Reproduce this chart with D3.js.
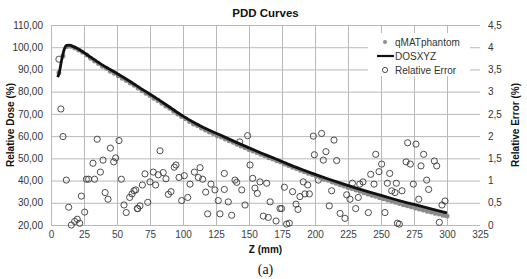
<!DOCTYPE html>
<html>
<head>
<meta charset="utf-8">
<script src="https://cdn.jsdelivr.net/npm/d3@7"></script>
<style>
  body { margin: 0; background: #fff; }
  svg { font-family: "Liberation Sans", Arial, sans-serif; }
</style>
</head>
<body>
<svg id="chart" width="527" height="279"></svg>
<script>
// PDD curves: measured (qMATphantom), simulated (DOSXYZ) and their relative error

var xTicks = [0, 25, 50, 75, 100, 125, 150, 175, 200, 225, 250, 275, 300, 325];
var doseTicks = [20, 30, 40, 50, 60, 70, 80, 90, 100, 110];
var errTicks = [0, 0.5, 1, 1.5, 2, 2.5, 3, 3.5, 4, 4.5];

// DOSXYZ curve (depth mm, dose %)
var dosZ = [5, 6, 8, 10, 12, 14, 16, 20, 25, 30, 35, 40, 50, 60, 70, 80, 90, 100, 110, 120, 130, 140,
            150, 160, 170, 180, 190, 200, 210, 220, 230, 240, 250, 260, 270, 280, 290, 300];
var dosVal = [86.5, 88, 94, 99, 100.8, 100.9, 100.5, 99.4, 97.6, 95.5, 93.5, 91.6, 88.2, 84.6, 80.7, 77.0,
              73.0, 69.0, 65.6, 62.6, 60.0, 57.3, 54.7, 52.2, 49.8, 47.3, 45.0, 42.8, 40.7, 38.7, 36.8,
              35.0, 33.3, 31.6, 30.0, 28.5, 26.9, 25.4];

// qMATphantom points (depth mm, dose %)
var qmatZ = [6, 9, 12, 15, 18, 21, 24, 27, 30, 33, 36, 39, 42, 45, 48, 51, 54, 57, 60, 63, 66, 69, 72, 75,
             78, 81, 84, 87, 90, 93, 96, 99, 102, 105, 108, 111, 114, 117, 120, 123, 126, 129, 132, 135,
             138, 141, 144, 147, 150, 153, 156, 159, 162, 165, 168, 171, 174, 177, 180, 183, 186, 189, 192,
             195, 198, 201, 204, 207, 210, 213, 216, 219, 222, 225, 228, 231, 234, 237, 240, 243, 246, 249,
             252, 255, 258, 261, 264, 267, 270, 273, 276, 279, 282, 285, 288, 291, 294, 297, 300];
var qmatVal = [88.5, 96.0, 100.3, 100.4, 99.6, 98.8, 97.7, 96.5, 95.0, 93.8, 92.7, 91.4, 90.5, 89.2, 88.3,
               87.2, 86.0, 85.0, 83.9, 82.9, 81.7, 80.4, 79.3, 78.3, 77.0, 76.0, 74.8, 73.6, 72.5, 71.2,
               70.0, 68.8, 67.8, 66.6, 65.5, 64.8, 63.6, 62.8, 61.9, 61.2, 60.2, 59.6, 58.7, 57.9, 57.2,
               56.3, 55.6, 54.8, 54.0, 53.3, 52.6, 51.8, 51.2, 50.3, 49.7, 48.9, 48.3, 47.4, 46.8, 46.0,
               45.4, 44.6, 44.0, 43.3, 42.7, 41.9, 41.4, 40.6, 40.1, 39.4, 38.8, 38.1, 37.6, 36.9, 36.4,
               35.7, 35.2, 34.5, 34.0, 33.4, 32.9, 32.3, 31.8, 31.2, 30.8, 30.2, 29.7, 29.1, 28.7, 28.2,
               27.6, 27.2, 26.7, 26.2, 25.8, 25.3, 24.9, 24.4, 24.1];

// Relative error (depth mm, error %)
var errZ = [6, 7.5, 9.1, 11.6, 13.4, 15.4, 17.9, 19.9, 21.7, 23, 25.5, 26.8, 28.5, 31.8, 33, 35, 37.4, 39.4,
            41, 43.2, 45, 47.5, 49, 51.5, 53.3, 55.3, 57, 59.6, 61.4, 62.9, 64.2, 65.4, 65.7, 67.4, 69.2,
            71.2, 73.3, 75, 77.5, 79.3, 81.3, 82.6, 85, 87.1, 88.9, 90.9, 93.4, 94.7, 97, 99, 101, 103.6,
            105.3, 108.6, 111.6, 112.9, 114.9, 117.2, 118.7, 121.2, 124.2, 126.7, 128, 131.3, 131.3, 134.3,
            136.9, 139.4, 140.7, 143, 144.5, 147, 149, 150.8, 152.8, 154.5, 156.3, 158.3, 160.8, 163.4,
            164.6, 166, 170.5, 173.5, 174.7, 176.8, 178.5, 180.5, 183, 185.6, 187.1, 188.6, 191.1, 192.4,
            194.5, 195.7, 198.7, 199.5, 202.5, 205, 206.3, 208.3, 210.8, 212.6, 214.4, 216.4, 219, 222.7,
            224, 226.5, 228.3, 230.8, 232.8, 233.9, 236.4, 240.4, 242.2, 244.7, 246, 248.5, 250.5, 253,
            254.8, 256.6, 258.1, 260.6, 261.6, 262.4, 263.9, 265.9, 269, 270.2, 272.2, 274.5, 276.5, 278.6,
            280.3, 282.3, 284.6, 286.1, 290.4, 292.2, 294.2, 296.2, 298.5];
var errVal = [3.73, 2.61, 1.99, 1.01, 0.40, 0.00, 0.08, 0.13, 0.04, 0.65, 0.29, 1.03, 1.03, 1.39, 1.03, 1.93,
              1.19, 1.46, 0.73, 0.58, 1.73, 1.42, 1.51, 1.90, 1.03, 0.45, 0.28, 0.62, 0.70, 0.77, 0.79, 0.37,
              0.37, 0.43, 0.90, 1.15, 0.51, 0.97, 1.19, 0.90, 1.13, 1.67, 1.18, 1.04, 0.69, 0.75, 1.30, 1.35,
              1.07, 0.55, 1.11, 0.62, 0.92, 1.19, 1.07, 1.29, 1.03, 0.74, 0.25, 0.92, 0.79, 0.55, 0.25, 1.16,
              0.80, 0.52, 0.22, 1.01, 0.96, 1.87, 0.79, 0.45, 2.01, 1.35, 1.05, 0.83, 0.71, 0.97, 0.20, 0.94,
              0.17, 0.52, 0.09, 0.37, 0.37, 0.85, 0.02, 0.04, 0.75, 0.47, 0.35, 0.64, 0.97, 0.70, 0.90, 0.70,
              2.00, 1.58, 1.01, 2.06, 1.46, 1.65, 0.43, 0.77, 1.91, 1.45, 0.26, 0.15, 0.68, 0.58, 0.94, 0.37,
              0.62, 0.92, 0.97, 0.28, 1.14, 0.92, 1.59, 1.20, 1.37, 0.28, 0.94, 1.16, 0.77, 0.73, 0.94, 0.04,
              0.02, 0.77, 1.42, 1.85, 1.37, 0.92, 1.82, 0.58, 1.33, 1.59, 1.01, 0.80, 1.44, 1.33, 0.06, 0.45,
              0.54];

var svg = d3.select("#chart"),
    margin = {top: 25, right: 47, bottom: 54, left: 51},
    width = +svg.attr("width") - margin.left - margin.right,
    height = +svg.attr("height") - margin.top - margin.bottom,
    g = svg.append("g").attr("transform", "translate(" + margin.left + "," + margin.top + ")");

var x = d3.scaleLinear().domain([0, 325]).range([0, width]);
var yDose = d3.scaleLinear().domain([20, 110]).range([height, 0]);
var yErr = d3.scaleLinear().domain([0, 4.5]).range([height, 0]);

var gridColor = "#b9b9b9";

// horizontal grid + left labels
g.append("g")
    .attr("class", "y axis")
    .call(d3.axisLeft(yDose).tickValues(doseTicks).tickSize(-width).tickPadding(8)
        .tickFormat(function(d) { return d3.format(".2f")(d).replace(".", ","); }))
    .call(function(a) {
        a.select(".domain").remove();
        a.selectAll("line").attr("stroke", gridColor);
        a.selectAll("text").attr("fill", "#333").style("font-size", "10px");
    });

// vertical grid + bottom labels
g.append("g")
    .attr("class", "x axis")
    .attr("transform", "translate(0," + height + ")")
    .call(d3.axisBottom(x).tickValues(xTicks).tickSize(-height).tickPadding(6))
    .call(function(a) {
        a.select(".domain").remove();
        a.selectAll("line").attr("stroke", function(d) { return d === 325 ? "none" : gridColor; });
        a.selectAll("text").attr("fill", "#3a3f4a").style("font-size", "10px");
    });

// right axis labels
g.append("g")
    .attr("class", "y2 axis")
    .attr("transform", "translate(" + width + ",0)")
    .call(d3.axisRight(yErr).tickValues(errTicks).tickSize(0).tickPadding(8)
        .tickFormat(function(d) { return String(d).replace(".", ","); }))
    .call(function(a) {
        a.select(".domain").remove();
        a.selectAll("text").attr("fill", "#333").style("font-size", "10px");
    });

// relative error circles
g.selectAll(".err")
    .data(errZ.map(function(z, i) { return {z: z, v: errVal[i]}; }))
  .enter().append("circle")
    .attr("class", "err")
    .attr("cx", function(d) { return x(d.z); })
    .attr("cy", function(d) { return yErr(d.v); })
    .attr("r", 3.1)
    .attr("fill", "none")
    .attr("stroke", "#3a3a3a")
    .attr("stroke-width", 0.9);

// qMATphantom points
g.selectAll(".qmat")
    .data(qmatZ.map(function(z, i) { return {z: z, v: qmatVal[i]}; }))
  .enter().append("circle")
    .attr("class", "qmat")
    .attr("cx", function(d) { return x(d.z); })
    .attr("cy", function(d) { return yDose(d.v); })
    .attr("r", 2.5)
    .attr("fill", "#8a8a8a");

// DOSXYZ line
var line = d3.line()
    .x(function(d) { return x(d.z); })
    .y(function(d) { return yDose(d.v); })
    .curve(d3.curveMonotoneX);

g.append("path")
    .datum(dosZ.map(function(z, i) { return {z: z, v: dosVal[i]}; }))
    .attr("fill", "none")
    .attr("stroke", "#111")
    .attr("stroke-width", 2.8)
    .attr("d", line);

// legend
var leg = svg.append("g").attr("transform", "translate(368,33)");
leg.append("rect").attr("width", 102).attr("height", 43).attr("fill", "#fff");
leg.append("circle").attr("cx", 17).attr("cy", 9).attr("r", 2).attr("fill", "#8a8a8a");
leg.append("line").attr("x1", 9).attr("x2", 26).attr("y1", 23).attr("y2", 23)
    .attr("stroke", "#111").attr("stroke-width", 2.2);
leg.append("circle").attr("cx", 17).attr("cy", 37).attr("r", 2.6)
    .attr("fill", "none").attr("stroke", "#3a3a3a").attr("stroke-width", 0.9);
var legText = ["qMATphantom", "DOSXYZ", "Relative Error"];
leg.selectAll(".lt")
    .data(legText)
  .enter().append("text")
    .attr("x", 27)
    .attr("y", function(d, i) { return 9 + i * 14; })
    .attr("dy", "0.35em")
    .attr("fill", "#333")
    .style("font-size", "10px")
    .text(function(d) { return d; });

// titles
svg.append("text")
    .attr("x", margin.left + width / 2).attr("y", 17)
    .attr("text-anchor", "middle")
    .style("font-size", "11.5px").style("font-weight", "bold")
    .attr("fill", "#111")
    .text("PDD Curves");

svg.append("text")
    .attr("x", margin.left + width / 2).attr("y", 253)
    .attr("text-anchor", "middle")
    .style("font-size", "10px").style("font-weight", "bold")
    .attr("fill", "#111")
    .text("Z (mm)");

svg.append("text")
    .attr("transform", "translate(14," + (margin.top + height / 2) + ") rotate(-90)")
    .attr("text-anchor", "middle")
    .style("font-size", "10px").style("font-weight", "bold")
    .attr("fill", "#111")
    .text("Relative Dose (%)");

svg.append("text")
    .attr("transform", "translate(519," + (margin.top + height / 2) + ") rotate(-90)")
    .attr("text-anchor", "middle")
    .style("font-size", "10px").style("font-weight", "bold")
    .attr("fill", "#111")
    .text("Relative Error (%)");

svg.append("text")
    .attr("x", margin.left + width / 2).attr("y", 274)
    .attr("text-anchor", "middle")
    .style("font-family", "'Liberation Serif', 'Times New Roman', serif")
    .style("font-size", "14px")
    .attr("fill", "#111")
    .text("(a)");
</script>
</body>
</html>
